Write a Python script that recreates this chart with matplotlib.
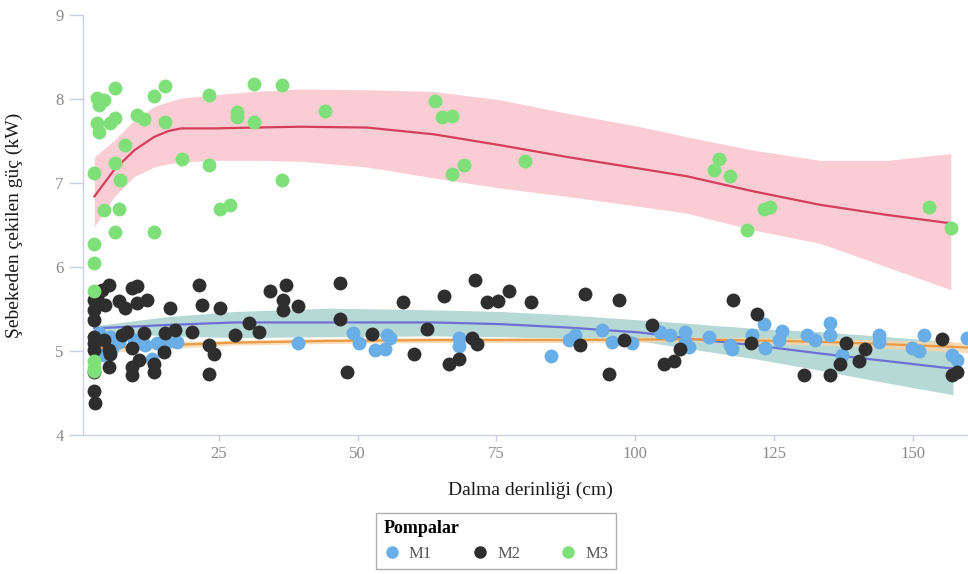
import matplotlib
matplotlib.use("Agg")
import matplotlib.pyplot as plt
from matplotlib.lines import Line2D

# ---------------- data ----------------
m1_x = [5.5, 7.0, 9.7, 11.8, 13.9, 15.7, 17.5, 13.0, 4.3, 3.4, 5.8, 39.2, 49.2, 50.2, 53.2, 55.0,
        55.3, 55.9, 68.2, 68.2, 84.8, 88.0, 89.2, 94.0, 95.8, 99.4, 104.5, 106.3, 109.0, 109.0,
        109.6, 113.2, 117.1, 117.4, 121.0, 123.1, 123.4, 125.8, 126.4, 130.9, 132.4, 135.1, 135.1,
        137.2, 143.8, 143.9, 149.8, 151.0, 151.9, 157.0, 157.9, 159.7]
m1_y = [5.17, 5.11, 5.13, 5.07, 5.09, 5.11, 5.11, 4.91, 4.95, 5.21, 5.03, 5.09, 5.21, 5.09, 5.01, 5.02,
        5.19, 5.15, 5.15, 5.06, 4.94, 5.13, 5.19, 5.25, 5.11, 5.10, 5.23, 5.19, 5.23, 5.11,
        5.05, 5.17, 5.07, 5.02, 5.19, 5.32, 5.03, 5.13, 5.24, 5.19, 5.13, 5.33, 5.19,
        4.95, 5.19, 5.11, 5.03, 5.00, 5.19, 4.95, 4.89, 5.15]

m2_x = [5.2, 4.0, 9.4, 10.3, 2.5, 2.5, 2.5, 4.6, 7.0, 8.2, 10.3, 12.1, 16.3, 21.4, 22.0, 25.3, 34.3,
        30.4, 32.2, 28.0, 20.2, 17.2, 15.4, 11.5, 7.6, 8.5, 2.5, 2.5, 2.5, 4.3, 5.2, 5.5, 9.4, 15.1,
        23.2, 24.1, 10.6, 9.4, 9.4, 13.3, 13.3, 5.2, 2.5, 23.2, 2.5, 2.8, 37.1, 36.5, 36.5, 39.2,
        46.9, 46.9, 52.6, 48.1, 58.2, 60.1, 62.5, 65.6, 71.2, 73.3, 70.6, 71.5, 68.2, 66.4, 75.2,
        77.2, 81.2, 91.0, 97.0, 90.1, 98.0, 95.2, 103.0, 108.1, 105.1, 106.9, 117.5, 121.9, 120.9,
        130.3, 135.1, 137.9, 141.4, 136.9, 140.3, 155.2, 157.0, 157.9, 3.1]
m2_y = [5.79, 5.73, 5.75, 5.77, 5.61, 5.49, 5.37, 5.55, 5.59, 5.51, 5.57, 5.61, 5.51, 5.79, 5.55, 5.51, 5.71,
        5.33, 5.23, 5.19, 5.23, 5.25, 5.21, 5.21, 5.19, 5.23, 5.17, 5.09, 5.01, 5.13, 5.01, 4.97, 5.03, 4.99,
        5.07, 4.97, 4.89, 4.81, 4.71, 4.85, 4.75, 4.81, 4.75, 4.73, 4.52, 4.38, 5.79, 5.61, 5.49, 5.54,
        5.81, 5.38, 5.20, 4.75, 5.58, 4.97, 5.26, 5.65, 5.85, 5.58, 5.15, 5.08, 4.91, 4.84, 5.59,
        5.71, 5.58, 5.68, 5.61, 5.07, 5.13, 4.73, 5.31, 5.02, 4.85, 4.88, 5.61, 5.44, 5.09,
        4.71, 4.71, 5.10, 5.02, 4.85, 4.88, 5.14, 4.71, 4.75, 5.64]

m3_x = [6.4, 3.1, 4.3, 3.4, 13.3, 15.4, 23.2, 31.3, 36.3, 3.1, 3.4, 5.5, 6.4, 10.3, 11.5, 15.4, 28.3,
        28.3, 31.3, 8.2, 2.5, 6.4, 7.3, 18.3, 23.2, 36.4, 4.3, 7.1, 25.3, 27.1, 6.4, 13.3, 2.5, 2.5,
        2.5, 2.6, 2.6, 2.6, 44.2, 64.0, 65.2, 67.0, 69.1, 67.0, 80.2, 115.0, 114.1, 117.0, 123.1,
        124.2, 120.1, 152.9, 156.8]
m3_y = [8.13, 8.01, 7.99, 7.93, 8.03, 8.15, 8.05, 8.18, 8.17, 7.71, 7.61, 7.71, 7.77, 7.81, 7.76, 7.73, 7.85,
        7.79, 7.73, 7.45, 7.12, 7.24, 7.04, 7.28, 7.22, 7.04, 6.68, 6.69, 6.69, 6.74, 6.42, 6.42, 6.27, 6.05,
        5.72, 4.88, 4.80, 4.76, 7.86, 7.98, 7.79, 7.80, 7.21, 7.11, 7.26, 7.28, 7.15, 7.08, 6.69,
        6.71, 6.44, 6.72, 6.46]

# smoothed trend lines with confidence bands
m3_fit_x = [2.6, 6.2, 9.8, 13.4, 16.0, 18.2, 24.1, 31.3, 39.7, 51.7, 63.7, 75.7, 87.7, 100.9, 109.3, 121.3, 133.3, 145.3, 156.8]
m3_fit_y = [6.84, 7.16, 7.39, 7.55, 7.62, 7.65, 7.65, 7.66, 7.67, 7.66, 7.58, 7.45, 7.31, 7.17, 7.08, 6.90, 6.74, 6.62, 6.52]
m3_fit_hi = [7.31, 7.51, 7.75, 7.91, 7.97, 8.01, 8.05, 8.09, 8.12, 8.11, 8.09, 7.99, 7.83, 7.67, 7.55, 7.39, 7.27, 7.27, 7.35]
m3_fit_lo = [6.48, 6.84, 7.08, 7.19, 7.23, 7.25, 7.27, 7.27, 7.26, 7.19, 7.06, 6.94, 6.84, 6.72, 6.64, 6.44, 6.28, 6.00, 5.73]

m2_fit_x = [2.6, 15.8, 27.8, 45.1, 63.7, 75.7, 87.7, 100.9, 109.3, 121.3, 133.3, 145.3, 157.2]
m2_fit_y = [5.27, 5.31, 5.34, 5.34, 5.34, 5.32, 5.28, 5.22, 5.15, 5.07, 4.97, 4.88, 4.79]
m2_fit_hi = [5.30, 5.41, 5.47, 5.51, 5.49, 5.47, 5.43, 5.37, 5.33, 5.27, 5.23, 5.17, 5.11]
m2_fit_lo = [5.22, 5.18, 5.16, 5.17, 5.18, 5.17, 5.15, 5.12, 5.03, 4.91, 4.77, 4.62, 4.48]

m1_fit_x = [2.6, 15.8, 27.8, 45.1, 63.7, 87.7, 109.3, 133.3, 157.2, 159.9]
m1_fit_y = [5.03, 5.07, 5.10, 5.12, 5.13, 5.13, 5.14, 5.11, 5.05, 5.04]
m1_fit_hi = [5.09, 5.11, 5.13, 5.15, 5.16, 5.16, 5.17, 5.15, 5.11, 5.10]
m1_fit_lo = [4.97, 5.03, 5.07, 5.09, 5.10, 5.10, 5.11, 5.07, 4.99, 4.98]

x_ticks = [25, 50, 75, 100, 125, 150]
y_ticks = [4, 5, 6, 7, 8, 9]
series_names = ["M1", "M2", "M3"]

# ---------------- style ----------------
col_m1 = "#6aaee8"
col_m2 = "#2e2e2e"
col_m3 = "#7fe07a"
plt.rcParams["font.family"] = ["Liberation Serif", "DejaVu Serif"]

fig = plt.figure(figsize=(9.68, 5.74), dpi=100)
ax = fig.add_axes([83 / 968, 1 - 435 / 574, 1 - 83 / 968, (435 - 15) / 574])

# bands
ax.fill_between(m3_fit_x, m3_fit_lo, m3_fit_hi, color="#f9cdd3", lw=0, zorder=1)
ax.fill_between(m2_fit_x, m2_fit_lo, m2_fit_hi, color="#b6d9d5", lw=0, zorder=1)
ax.fill_between(m1_fit_x, m1_fit_lo, m1_fit_hi, color="#f6d6ad", alpha=0.8, lw=0, zorder=1.1)
# lines
ax.plot(m3_fit_x, m3_fit_y, color="#d43d5e", lw=1.6, zorder=2)
ax.plot(m2_fit_x, m2_fit_y, color="#6c70d6", lw=1.6, zorder=2)
ax.plot(m1_fit_x, m1_fit_y, color="#eb9a45", lw=1.6, zorder=2)
# points
ax.scatter(m1_x, m1_y, s=100, color=col_m1, lw=0, zorder=3)
ax.scatter(m2_x, m2_y, s=100, color=col_m2, lw=0, zorder=3)
ax.scatter(m3_x, m3_y, s=100, color=col_m3, lw=0, zorder=3)

ax.set_xlim(0.55, 159.9)
ax.set_ylim(4, 9)
ax.set_xticks(x_ticks)
ax.set_yticks(y_ticks)
for s in ["top", "right"]:
    ax.spines[s].set_visible(False)
for s in ["left", "bottom"]:
    ax.spines[s].set_color("#ccd0e6")
    ax.spines[s].set_linewidth(1.0)
ax.tick_params(axis="both", colors="#c8cce0", labelcolor="#8a8a8a", labelsize=12, width=1)
ax.tick_params(axis="x", length=4, pad=4)
ax.tick_params(axis="y", length=10, pad=4)

fig.text(14 / 968, 1 - 225 / 574, "Şebekeden çekilen güç (kW)", rotation=90,
         ha="center", va="center", fontsize=14, color="#1a1a1a")
fig.text(530 / 968, 1 - 490 / 574, "Dalma derinliği (cm)", ha="center", va="center",
         fontsize=14, color="#1a1a1a")

handles = [Line2D([], [], marker="o", ls="", markersize=9, markerfacecolor=c, markeredgewidth=0)
           for c in [col_m1, col_m2, col_m3]]
leg = fig.legend(handles, series_names, title="Pompalar", ncol=3, loc="center",
                 bbox_to_anchor=(496 / 968, 1 - 541 / 574), frameon=True, fancybox=False,
                 fontsize=12, title_fontproperties={"weight": "bold", "size": 13},
                 alignment="left", columnspacing=2.4, handletextpad=0.5, borderpad=0.45,
                 handlelength=1.0)
leg.get_frame().set_edgecolor("#9a9a9a")
leg.get_frame().set_linewidth(1.0)
for t in leg.get_texts():
    t.set_color("#555555")

fig.savefig("out.png", dpi=100)
